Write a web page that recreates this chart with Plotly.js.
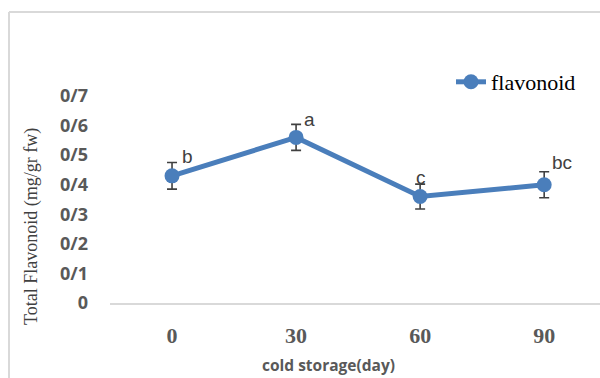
<!DOCTYPE html>
<html>
<head>
<meta charset="utf-8">
<script src="https://cdn.plot.ly/plotly-3.0.1.min.js"></script>
<style>html,body{margin:0;padding:0;overflow:hidden;background:#fff;}</style>
</head>
<body>
<div id="chart" style="width:600px;height:378px;"></div>
<script>
// Data
const days = ["0", "30", "60", "90"];
const flavonoid = [0.43, 0.56, 0.36, 0.40];
const errors = [0.045, 0.044, 0.042, 0.044];
const letters = ["b", "a", "c", "bc"];
const yTickVals = [0, 0.1, 0.2, 0.3, 0.4, 0.5, 0.6, 0.7];
const yTickText = ["0", "0/1", "0/2", "0/3", "0/4", "0/5", "0/6", "0/7"];
const letterShiftX = [15, 13, 1, 18];
const letterShiftY = [19, 18, 19, 22];

const blue = "#4a7ebb";

const trace = {
  x: days,
  y: flavonoid,
  type: "scatter",
  mode: "lines+markers",
  name: "flavonoid",
  line: {color: blue, width: 5},
  marker: {color: blue, size: 15},
  error_y: {type: "data", array: errors, visible: true, color: "#404040", thickness: 1.6, width: 5}
};

const annotations = letters.map((t, i) => ({
  x: i, y: flavonoid[i], xref: "x", yref: "y",
  xanchor: "center", yanchor: "middle",
  text: t, showarrow: false, xshift: letterShiftX[i], yshift: letterShiftY[i],
  font: {family: "Liberation Sans, Arial, sans-serif", size: 19, color: "#404040"}
}));

annotations.push({
  xref: "paper", yref: "paper", x: (328 - 110) / 490, y: (303 - 365) / 207,
  xanchor: "center", yanchor: "middle",
  text: "<b>cold storage(day)</b>", showarrow: false,
  font: {family: "Open Sans, Liberation Sans, sans-serif", size: 15.5, color: "#595959"}
});
annotations.push({
  xref: "paper", yref: "paper", x: (32 - 110) / 490, y: (303 - 227) / 207,
  xanchor: "center", yanchor: "middle",
  text: "Total Flavonoid (mg/gr fw)", showarrow: false, textangle: -90,
  font: {family: "Liberation Serif, Times New Roman, serif", size: 18, color: "#404040"}
});

const layout = {
  width: 600, height: 378,
  margin: {l: 110, r: 0, t: 96, b: 75},
  paper_bgcolor: "#fff", plot_bgcolor: "#fff",
  showlegend: true,
  legend: {
    x: (451 - 110) / 490, y: (303 - 82) / 207, xanchor: "left", yanchor: "middle",
    font: {family: "Liberation Serif, Times New Roman, serif", size: 22, color: "#000"},
    bgcolor: "rgba(0,0,0,0)"
  },
  xaxis: {
    type: "category", range: [-0.5, 3.45],
    showgrid: false, zeroline: false,
    showline: true, linecolor: "#d9d9d9", linewidth: 1.5,
    ticks: "", ticklabelstandoff: 12,
    tickfont: {family: "Liberation Serif, Times New Roman, serif", size: 22, color: "#595959", weight: "bold"}
  },
  yaxis: {
    range: [0, 0.7], showgrid: false, zeroline: false, showline: false,
    tickvals: yTickVals, ticktext: yTickText, ticks: "", ticklabelstandoff: 21,
    tickfont: {family: "Open Sans, Liberation Sans, sans-serif", size: 18, color: "#595959", weight: "bold"}
  },
  annotations: annotations,
  shapes: [
    {type: "line", xref: "paper", yref: "paper", x0: (9 - 110) / 490, x1: (9 - 110) / 490, y0: (303 - 380) / 207, y1: (303 - 12) / 207, line: {color: "#d9d9d9", width: 2}},
    {type: "line", xref: "paper", yref: "paper", x0: (9 - 110) / 490, x1: 1.05, y0: (303 - 12) / 207, y1: (303 - 12) / 207, line: {color: "#d9d9d9", width: 2}}
  ]
};

Plotly.newPlot("chart", [trace], layout, {displayModeBar: false, staticPlot: true});
</script>
</body>
</html>
